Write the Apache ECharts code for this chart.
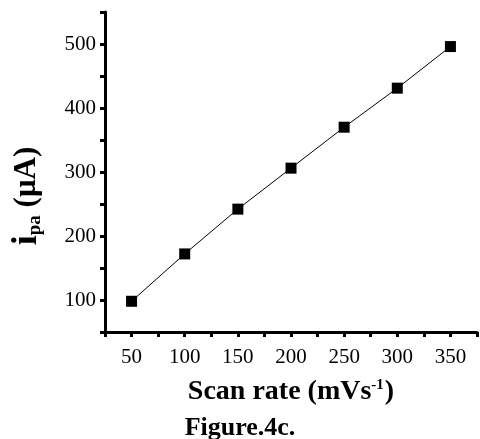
<!DOCTYPE html>
<html><head><meta charset="utf-8">
<script src="https://cdn.jsdelivr.net/npm/echarts@6/dist/echarts.min.js"></script>
<style>html,body{margin:0;padding:0;background:#fff}#c{width:480px;height:439px}</style>
</head><body><div id="c"></div>
<script>
var scanRates = [50, 100, 150, 200, 250, 300, 350];
var ipa = [98, 172, 242, 306, 370, 431, 496];
var xTickLabels = [50, 100, 150, 200, 250, 300, 350];
var yTickLabels = [100, 200, 300, 400, 500];

var F = '"Liberation Serif","Times New Roman",serif';
var chart = echarts.init(document.getElementById('c'));
chart.setOption({
  backgroundColor: '#fff',
  animation: false,
  grid: {left: 105, right: 2, top: 12, bottom: 107},
  xAxis: {
    type: 'value', min: 25, max: 375, interval: 25,
    axisLine: {lineStyle: {color: '#000', width: 3}},
    axisTick: {show: true, inside: false, length: 5, lineStyle: {color: '#000', width: 3}},
    splitLine: {show: false},
    axisLabel: {color: '#000', fontFamily: F, fontSize: 21, margin: 15,
      formatter: function (v) { return xTickLabels.indexOf(v) >= 0 ? String(v) : ''; }},
    name: 'Scan rate (mVs{sup|-1})',
    nameLocation: 'middle', nameGap: 46,
    nameTextStyle: {color: '#000', fontFamily: F, fontSize: 28, fontWeight: 'bold',
      rich: {sup: {fontFamily: F, fontSize: 15, fontWeight: 'bold', color: '#000', verticalAlign: 'top', padding: [0, 1, 10, 0]}}}
  },
  yAxis: {
    type: 'value', min: 50, max: 550, interval: 50,
    axisLine: {show: true, lineStyle: {color: '#000', width: 3}},
    axisTick: {show: true, inside: false, length: 5, lineStyle: {color: '#000', width: 3}},
    splitLine: {show: false},
    axisLabel: {color: '#000', fontFamily: F, fontSize: 21, margin: 9,
      formatter: function (v) { return yTickLabels.indexOf(v) >= 0 ? String(v) : ''; }}
  },
  graphic: [
    {type: 'text', left: 'center', top: 415,
      style: {text: 'Figure.4c.', fill: '#000', font: 'bold 26px ' + F}},
    {type: 'text', x: 27, y: 196, rotation: Math.PI / 2,
      style: {text: '{i|i}{sub|pa} (\u03bcA)', fill: '#000', font: 'bold 31px ' + F,
        align: 'center', verticalAlign: 'middle',
        rich: {
          i: {font: 'bold 36px ' + F, fill: '#000'},
          sub: {font: 'bold 19px ' + F, fill: '#000', verticalAlign: 'bottom', padding: [12, 0, 0, 0]}
        }}}
  ],
  series: [{
    type: 'line',
    data: scanRates.map(function (x, i) { return [x, ipa[i]]; }),
    symbol: 'rect', symbolSize: 11,
    itemStyle: {color: '#000'},
    lineStyle: {color: '#000', width: 1}
  }]
});
</script></body></html>
